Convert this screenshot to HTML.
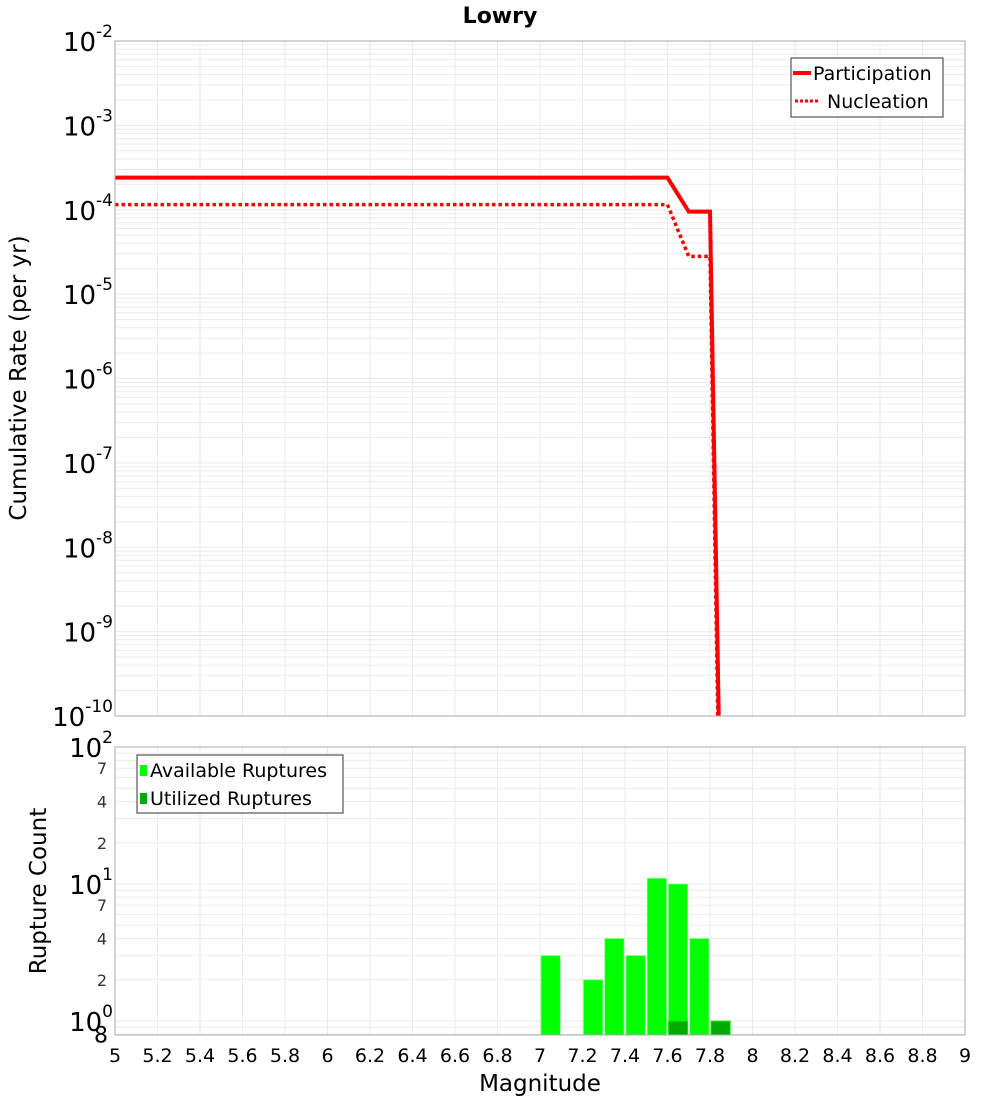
<!DOCTYPE html>
<html><head><meta charset="utf-8"><style>
body{margin:0;background:#fff;font-family:"Liberation Sans","DejaVu Sans",sans-serif}
svg text{font-family:"DejaVu Sans","Liberation Sans",sans-serif}
</style></head><body>
<svg id="chart" width="1000" height="1100" xmlns="http://www.w3.org/2000/svg">
<g id="top"></g>
<g id="bot"></g>
</svg>
<script>
const partX=[5,7.6,7.7,7.8,7.85];
const partY=[2.4e-4,2.4e-4,9.5e-5,9.5e-5,5e-12];
const nuclX=[5,7.6,7.7,7.8,7.85];
const nuclY=[1.15e-4,1.15e-4,2.8e-5,2.8e-5,1e-12];
const binMags=[7.05,7.25,7.35,7.45,7.55,7.65,7.75];
const availCounts=[3,2,4,3,11,10,4];
const utilMags=[7.65,7.85];
const utilCounts=[1,1];
const xTicks=[5,5.2,5.4,5.6,5.8,6,6.2,6.4,6.6,6.8,7,7.2,7.4,7.6,7.8,8,8.2,8.4,8.6,8.8,9];
const topExp=[-2,-3,-4,-5,-6,-7,-8,-9,-10];

const NS="http://www.w3.org/2000/svg";
const L=115,R=965,T1=41,B1=716,T2=747,B2=1035;
const X=v=>L+(v-5)/4*(R-L);
const Y1=v=>T1+(-2-Math.log10(v))*(B1-T1)/8;
const dec2=137, Y2=v=>1021-Math.log10(v)*dec2;
function el(p,tag,a,txt){const e=document.createElementNS(NS,tag);for(const k in a)e.setAttribute(k,a[k]);if(txt!==undefined)e.textContent=txt;p.appendChild(e);return e;}
const svg=document.getElementById('chart'),top_=document.getElementById('top'),bot=document.getElementById('bot');
let t=el(svg,'text',{x:500,y:23,'text-anchor':'middle','font-size':22,'font-weight':'bold'},'Lowry');

const defs=el(svg,'defs',{});
const cp=el(defs,'clipPath',{id:'c1'});el(cp,'rect',{x:L,y:T1,width:R-L,height:B1-T1});
const cp2=el(defs,'clipPath',{id:'c2'});el(cp2,'rect',{x:L,y:T2,width:R-L,height:B2-T2});
const g1=el(top_,'g',{stroke:'#ebebeb','stroke-width':1});

for(let e=-10;e<-2;e++)for(let m=1;m<10;m++){const y=Y1(m*Math.pow(10,e));el(g1,'line',{x1:L,x2:R,y1:y,y2:y});}
for(let v=5;v<=9.001;v+=0.2)el(g1,'line',{x1:X(v),x2:X(v),y1:T1,y2:B1});
const g2=el(bot,'g',{stroke:'#ebebeb','stroke-width':1});

for(let e=-1;e<2;e++)for(let m=1;m<10;m++){const v=m*Math.pow(10,e);if(v<0.8)continue;const y=Y2(v);el(g2,'line',{x1:L,x2:R,y1:y,y2:y});}
for(let v=5;v<=9.001;v+=0.2)el(g2,'line',{x1:X(v),x2:X(v),y1:T2,y2:B2});
function pts(xs,ys){return xs.map((x,i)=>X(x)+','+Y1(ys[i])).join(' ');}
let p=el(top_,'polyline',{points:pts(partX,partY),fill:'none',stroke:'#ff0000','stroke-width':4,'clip-path':'url(#c1)'});

p=el(top_,'polyline',{points:pts(nuclX,nuclY),fill:'none',stroke:'#ff0000','stroke-width':3.5,'stroke-dasharray':'3.5,3','clip-path':'url(#c1)'});

const bw=0.1*(R-L)/4;
availCounts.forEach((c,i)=>{const x=X(binMags[i])-bw/2+1;const y=Y2(c);
 const r=el(bot,'rect',{x:x,y:y,width:bw-2,height:B2-y,fill:'#00ff00',stroke:'#7dff7d','stroke-width':0.8,'clip-path':'url(#c2)'});
 });
utilCounts.forEach((c,i)=>{const x=X(utilMags[i])-bw/2+1;const y=Y2(c);
 const r=el(bot,'rect',{x:x,y:y,width:bw-2,height:B2-y,fill:'#00aa00',stroke:'#00ff00','stroke-width':0.8,'clip-path':'url(#c2)'});
 });
el(top_,'rect',{x:L,y:T1,width:R-L,height:B1-T1,fill:'none',stroke:'#aaaaaa'});
el(bot,'rect',{x:L,y:T2,width:R-L,height:B2-T2,fill:'none',stroke:'#aaaaaa'});
topExp.forEach(e=>{const y=Y1(Math.pow(10,e));const tx=el(top_,'text',{x:113,y:y+10,'text-anchor':'end','font-size':26});
 el(tx,'tspan',{},'10');el(tx,'tspan',{dy:-14,'font-size':17},String(e));
 });
[[100,'2'],[10,'1'],[1,'0']].forEach(([v,e])=>{const y=Y2(v);const tx=el(bot,'text',{x:113,y:y+10,'text-anchor':'end','font-size':26});
 el(tx,'tspan',{},'10');el(tx,'tspan',{dy:-14,'font-size':17},e);
 });
[[70,'7'],[40,'4'],[20,'2'],[7,'7'],[4,'4'],[2,'2'],[0.8,'8']].forEach(([v,s])=>{const y=Y2(v);
 const tx=el(bot,'text',{x:v<1?108:107,y:v<1?y+8:y+6,'text-anchor':'end','font-size':v<1?22:16,fill:v<1?'#000':'#333'},s);
 });
xTicks.forEach(v=>{const tx=el(bot,'text',{x:X(v),y:1062,'text-anchor':'middle','font-size':19},String(v));
 });
t=el(svg,'text',{x:540,y:1091,'text-anchor':'middle','font-size':23},'Magnitude');

t=el(svg,'text',{x:0,y:0,'text-anchor':'middle','font-size':23,transform:'translate(26,378) rotate(-90)'},'Cumulative Rate (per yr)');

t=el(svg,'text',{x:0,y:0,'text-anchor':'middle','font-size':23,transform:'translate(46,891) rotate(-90)'},'Rupture Count');

const lg=el(top_,'g',{});
el(lg,'rect',{x:791,y:58,width:152,height:59,fill:'#fff',stroke:'#333'});
el(lg,'line',{x1:793,x2:811,y1:73,y2:73,stroke:'#f00','stroke-width':4});
el(lg,'text',{x:813,y:80,'font-size':19},'Participation');
el(lg,'line',{x1:795,x2:820,y1:101,y2:101,stroke:'#f00','stroke-width':3,'stroke-dasharray':'3,2'});
el(lg,'text',{x:827,y:108,'font-size':19},'Nucleation');
const lb=el(bot,'g',{});
el(lb,'rect',{x:137,y:755,width:206,height:58,fill:'#fff',stroke:'#333'});
el(lb,'rect',{x:140,y:765,width:7,height:11,fill:'#00ff00'});
el(lb,'text',{x:150,y:777,'font-size':19},'Available Ruptures');
el(lb,'rect',{x:140,y:793,width:7,height:11,fill:'#00aa00'});
el(lb,'text',{x:150,y:805,'font-size':19},'Utilized Ruptures');
</script>
</body></html>
